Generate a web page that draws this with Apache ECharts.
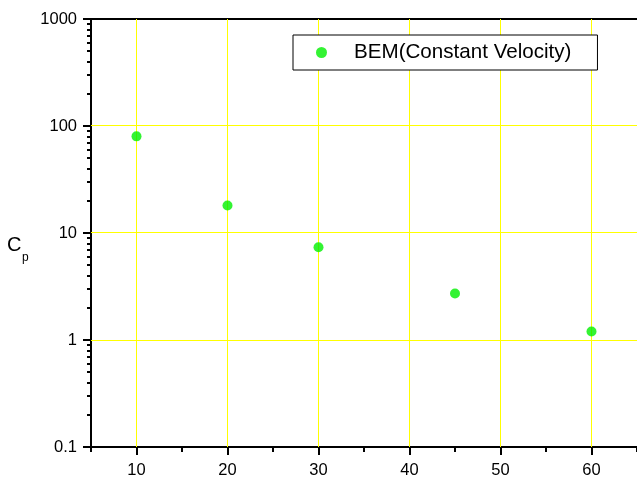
<!DOCTYPE html>
<html><head><meta charset="utf-8">
<script src="https://cdn.jsdelivr.net/npm/echarts@6/dist/echarts.min.js"></script>
<style>html,body{margin:0;padding:0;background:#fff}#c{width:637px;height:479px}</style>
</head><body><div id="c"></div>
<script>
const xValues = [10, 20, 30, 45, 60];
const cpValues = [80, 18.1, 7.35, 2.72, 1.2];
const seriesName = 'BEM(Constant Velocity)';
const xTickLabels = [10, 20, 30, 40, 50, 60];
const yTickLabels = ['0.1', '1', '10', '100', '1000'];
const yGridValues = [1, 10, 100];

const font = 'Liberation Sans, Arial, sans-serif';
const black = { color: '#000', width: 2 };
const gridStyle = { stroke: '#ffff00', lineWidth: 1 };
const crisp = v => Math.round(v - 0.5) + 0.5;
const chart = echarts.init(document.getElementById('c'));
chart.setOption({
  animation: false,
  backgroundColor: '#fff',
  grid: { left: 91, right: -6, top: 19, bottom: 32 },
  legend: {
    left: 293, top: 35,
    data: [seriesName],
    backgroundColor: '#fff', borderColor: '#000', borderWidth: 1,
    padding: [7, 26, 7, 23],
    itemWidth: 11, itemHeight: 11,
    textStyle: { fontFamily: font, fontSize: 20.6, color: '#000', padding: [0, 0, 0, 22] }
  },
  xAxis: [{
    type: 'value', min: 5, max: 65, interval: 5,
    axisLine: { show: true, onZero: false, lineStyle: black },
    axisTick: { show: true, inside: false, length: 8, customValues: xTickLabels, lineStyle: black },
    axisLabel: { fontFamily: font, fontSize: 16.5, color: '#000', margin: 15,
      customValues: xTickLabels,
      formatter: v => (xTickLabels.includes(v) ? String(v) : '') },
    splitLine: { show: false }
  }, {
    type: 'value', position: 'bottom', min: 5, max: 65, interval: 5,
    axisLine: { show: false },
    axisTick: { show: true, inside: false, length: 5, lineStyle: black },
    axisLabel: { show: false }, splitLine: { show: false }
  }, {
    type: 'value', position: 'top', min: 5, max: 65,
    axisLine: { show: true, onZero: false, lineStyle: black },
    axisTick: { show: false }, axisLabel: { show: false }, splitLine: { show: false }
  }],
  yAxis: {
    type: 'log', min: 0.1, max: 1000, logBase: 10,
    axisLine: { show: true, onZero: false, lineStyle: black },
    axisTick: { show: true, inside: false, length: 8, lineStyle: black },
    minorTick: { show: true, splitNumber: 9, length: 4, lineStyle: black },
    axisLabel: { fontFamily: font, fontSize: 16.5, color: '#000', margin: 14,
      formatter: v => { const s = yTickLabels.find(t => Math.abs(parseFloat(t) - v) < 1e-6 * Math.max(1, v)); return s || ''; } },
    splitLine: { show: false }
  },
  graphic: [
    { type: 'text', left: 7, top: 235, style: { text: 'C', fontFamily: font, fontSize: 20, fill: '#000' } },
    { type: 'text', left: 22, top: 252, style: { text: 'p', fontFamily: font, fontSize: 12, fill: '#000' } }
  ],
  series: [{
    name: 'vgrid', type: 'custom', z: 1, silent: true, clip: false,
    data: xTickLabels.map(v => [v, 1]),
    renderItem: (params, api) => {
      const cs = params.coordSys;
      const x = crisp(api.coord([api.value(0), 1])[0]);
      return { type: 'line', shape: { x1: x, y1: cs.y, x2: x, y2: cs.y + cs.height }, style: gridStyle };
    }
  }, {
    name: 'hgrid', type: 'custom', z: 1, silent: true, clip: false,
    data: yGridValues.map(v => [10, v]),
    renderItem: (params, api) => {
      const cs = params.coordSys;
      const y = crisp(api.coord([api.value(0), api.value(1)])[1]);
      return { type: 'line', shape: { x1: cs.x, y1: y, x2: cs.x + cs.width, y2: y }, style: gridStyle };
    }
  }, {
    name: seriesName, type: 'scatter', symbol: 'circle', symbolSize: 10, z: 5,
    itemStyle: { color: '#00f000' },
    data: xValues.map((x, i) => [x, cpValues[i]])
  }]
});
</script></body></html>
